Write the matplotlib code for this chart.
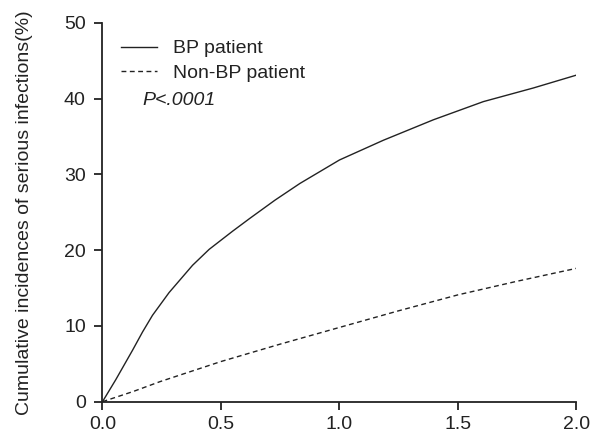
import matplotlib
matplotlib.use('Agg')
import matplotlib.pyplot as plt

plt.rcParams['font.family'] = ['Liberation Sans', 'DejaVu Sans']

# years of follow-up vs cumulative incidence (%)
years_bp = [0, 0.056, 0.127, 0.169, 0.211, 0.281, 0.38, 0.45, 0.549, 0.622,
            0.728, 0.833, 1.0, 1.185, 1.396, 1.607, 1.818, 2.0]
inc_bp = [0, 2.9, 6.8, 9.2, 11.4, 14.4, 18.0, 20.1, 22.5, 24.2,
          26.6, 28.8, 31.9, 34.5, 37.2, 39.6, 41.4, 43.1]

years_nonbp = [0, 0.13, 0.243, 0.5, 0.75, 1.0, 1.25, 1.5, 1.75, 2.0]
inc_nonbp = [0, 1.35, 2.65, 5.3, 7.6, 9.8, 12.0, 14.1, 15.9, 17.6]

yticks = [0, 10, 20, 30, 40, 50]
xticks = [0.0, 0.5, 1.0, 1.5, 2.0]

fig = plt.figure(figsize=(5.9, 4.37), dpi=100)
ax = fig.add_axes([0.1737, 0.0808, 0.8034, 0.867])

ax.plot(years_bp, inc_bp, color='#222222', lw=1.0, ls='-', label='BP patient')
ax.plot(years_nonbp, inc_nonbp, color='#222222', lw=1.0, ls=(0, (3.5, 2.5)), label='Non-BP patient')

ax.set_xlim(0, 2.0)
ax.set_ylim(0, 50)
ax.set_xticks(xticks)
ax.set_xticklabels(['%.1f' % t for t in xticks])
ax.set_yticks(yticks)
for s in ['top', 'right']:
    ax.spines[s].set_visible(False)
for s in ['left', 'bottom']:
    ax.spines[s].set_linewidth(1.3)
    ax.spines[s].set_color('#222222')
ax.tick_params(direction='out', length=6, width=1.3, labelsize=14, colors='#222222')
ax.tick_params(axis='y', pad=6)
ax.tick_params(axis='x', pad=4)

ax.set_ylabel('Cumulative incidences of serious infections(%)', fontsize=14, color='#222222', labelpad=22)

leg = ax.legend(loc='upper left', bbox_to_anchor=(0.039, 0.955), frameon=False, fontsize=14,
                handlelength=1.85, handletextpad=0.85, labelspacing=0.35,
                borderpad=0, borderaxespad=0)
for t in leg.get_texts():
    t.set_color('#222222')

ax.text(0.17, 39.8, 'P<.0001', fontsize=14, style='italic', va='center', color='#222222')

fig.savefig('out.png', dpi=100)
